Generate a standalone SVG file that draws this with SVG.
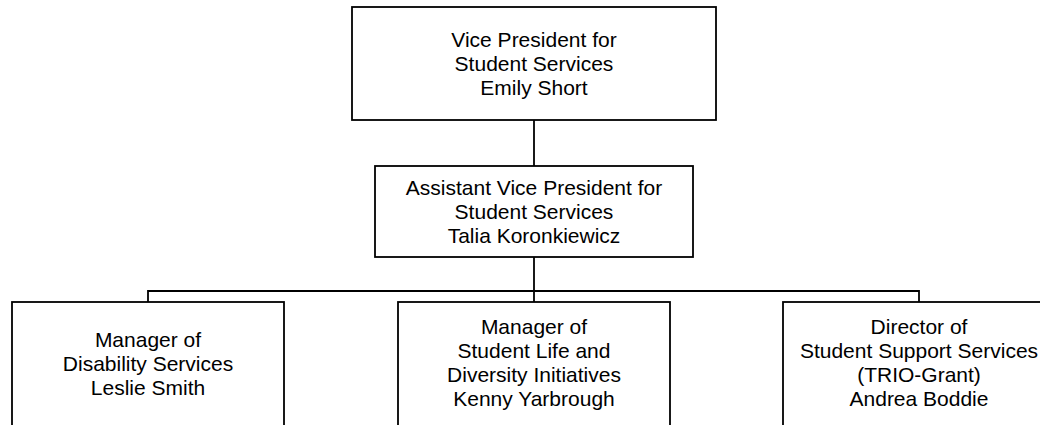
<svg xmlns="http://www.w3.org/2000/svg" width="1040" height="425" viewBox="0 0 1040 425">
<style>
.box{fill:#fff;stroke:#000;stroke-width:1.8}
.t{font-family:"Liberation Sans",Arial,sans-serif;font-size:21px;fill:#000;text-anchor:middle}
.c{fill:none;stroke:#000;stroke-width:1.8}
</style>
<rect width="1040" height="425" fill="#fff"/>
<g id="connectors">
<path class="c" d="M534,120 V166"/>
<path class="c" d="M534,257 V291"/>
<path class="c" d="M148,302 V291 H919 V302"/>
<path class="c" d="M534,291 V302"/>
</g>
<g id="vp">
<rect class="box" x="352" y="7" width="364" height="113"/>
<text class="t" x="534" y="46.5">Vice President for</text>
<text class="t" x="534" y="70.5">Student Services</text>
<text class="t" x="534" y="94.5">Emily Short</text>
</g>
<g id="avp">
<rect class="box" x="375" y="166" width="318" height="91"/>
<text class="t" x="534" y="195">Assistant Vice President for</text>
<text class="t" x="534" y="219">Student Services</text>
<text class="t" x="534" y="243">Talia Koronkiewicz</text>
</g>
<g id="disability">
<rect class="box" x="12" y="302" width="272" height="130"/>
<text class="t" x="148" y="346.5">Manager of</text>
<text class="t" x="148" y="370.5">Disability Services</text>
<text class="t" x="148" y="394.5">Leslie Smith</text>
</g>
<g id="studentlife">
<rect class="box" x="398" y="302" width="272" height="130"/>
<text class="t" x="534" y="334">Manager of</text>
<text class="t" x="534" y="358">Student Life and</text>
<text class="t" x="534" y="382">Diversity Initiatives</text>
<text class="t" x="534" y="406">Kenny Yarbrough</text>
</g>
<g id="sss">
<rect class="box" x="783" y="302" width="272" height="130"/>
<text class="t" x="919" y="334">Director of</text>
<text class="t" x="919" y="358">Student Support Services</text>
<text class="t" x="919" y="382">(TRIO-Grant)</text>
<text class="t" x="919" y="406">Andrea Boddie</text>
</g>
</svg>
